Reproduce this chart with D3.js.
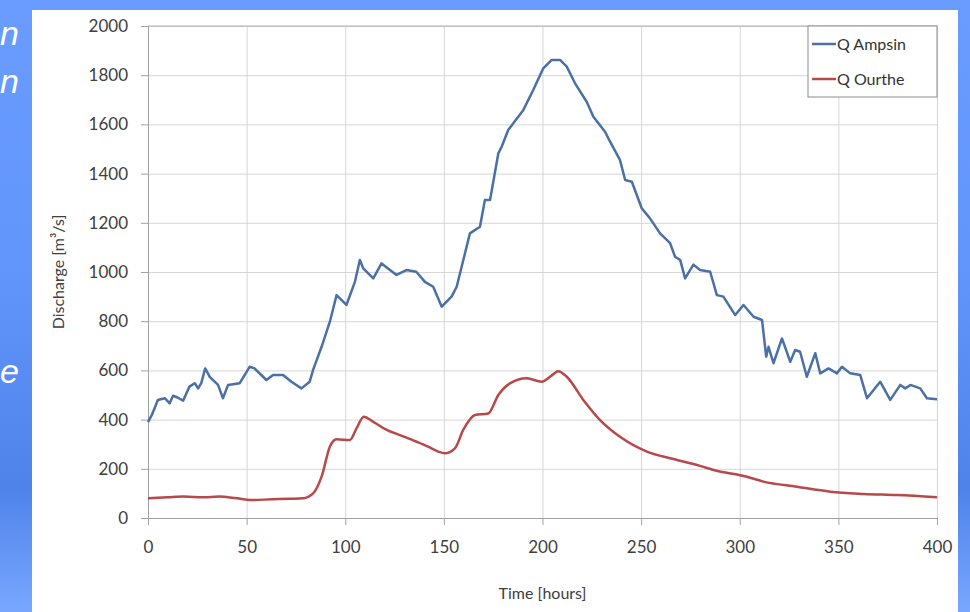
<!DOCTYPE html>
<html>
<head>
<meta charset="utf-8">
<script src="https://cdn.jsdelivr.net/npm/d3@7"></script>
<style>
  body { margin: 0; overflow: hidden; }
  svg { display: block; }
</style>
</head>
<body>
<div id="chart"></div>
<script>
// values (hours, m3/s)
const ampsinHours = [0, 2, 5, 8.5, 11, 12.7, 15, 17.8, 21, 23.7, 25.4, 27, 29, 31.3, 35.5, 38, 40.6, 46.5, 51.6, 54,
    60, 63.4, 68.5, 72.7, 77.8, 82, 83.7, 88, 92.2, 95.6, 100.6, 104.9, 107.4, 109.1, 114.2, 118.4, 126, 131, 136, 140.4,
    144.6, 148.9, 153.9, 156.5, 163.2, 168.3, 170.8, 173.4, 177.6, 179.3, 182.6, 190.3, 195.3, 200.4, 204.7, 208.9, 212.3, 216.5, 222.4, 225.8,
    231.7, 233.4, 239.3, 241.9, 245.3, 250.3, 254.5, 259.6, 264.7, 267.2, 269.8, 272.3, 276.5, 279.9, 285, 288.4, 291.7, 297.7, 301.9, 307,
    311.3, 313.4, 314.6, 317.1, 321.4, 325.6, 328.1, 330.6, 334, 338.3, 340.8, 345, 349.3, 351.8, 356, 361.1, 364.5, 371.2, 376.3, 381.4,
    383.9, 386.5, 391.5, 394.9, 400];
const ampsinQ = [390, 420, 480, 487, 466, 497, 490, 477, 534, 548, 527, 548, 608, 574, 541, 487, 541, 548, 615, 608,
    561, 581, 581, 554, 527, 554, 602, 696, 798, 906, 866, 960, 1049, 1015, 974, 1035, 988, 1008, 1001, 960,
    940, 859, 900, 940, 1157, 1184, 1293, 1293, 1482, 1509, 1577, 1659, 1740, 1828, 1862, 1862, 1835, 1767, 1692, 1631,
    1570, 1543, 1455, 1374, 1367, 1259, 1218, 1157, 1117, 1062, 1049, 974, 1030, 1008, 1001, 906, 900, 825, 866, 818,
    805, 656, 696, 629, 730, 635, 683, 676, 574, 670, 588, 608, 588, 615, 588, 581, 487, 554, 480, 541,
    527, 541, 527, 487, 483];

const ourtheHours = [0, 10, 18, 28, 36, 45, 52, 63, 72, 78.6, 83.7, 88, 92.2, 95.6, 102.3, 105.7, 109.4, 114.2, 121, 127.7,
    136.2, 142, 147.1, 150.5, 155.6, 159.8, 165.8, 172.5, 177.6, 183.5, 192, 199.6, 204, 208, 212.3, 220.7, 229.2, 239.3, 252.9, 266.4,
    279.9, 286.7, 303.6, 312, 329, 345.9, 362.8, 379.7, 400];
const ourtheQ = [80, 84, 87, 84, 87, 80, 73, 76, 78, 80, 100, 168, 290, 320, 317, 364, 412, 391, 358, 337,
    310, 290, 270, 263, 283, 358, 419, 425, 500, 547, 568, 554, 575, 597, 574, 480, 398, 330, 270, 240,
    212, 195, 168, 148, 127, 107, 98, 93, 84];

const xTicks = [0, 50, 100, 150, 200, 250, 300, 350, 400];
const yTicks = [0, 200, 400, 600, 800, 1000, 1200, 1400, 1600, 1800, 2000];
const seriesNames = ["Q Ampsin", "Q Ourthe"];
const seriesColors = ["#4a70a6", "#b8484a"];

const W = 970, H = 612;
const svg = d3.select("#chart").append("svg")
    .attr("width", W)
    .attr("height", H);

// slide background
const grad = svg.append("defs").append("linearGradient")
    .attr("id", "bg").attr("x1", 0).attr("y1", 0).attr("x2", 0).attr("y2", 1);
grad.append("stop").attr("offset", 0).attr("stop-color", "#6a9cff");
grad.append("stop").attr("offset", 0.45).attr("stop-color", "#6295fb");
grad.append("stop").attr("offset", 0.8).attr("stop-color", "#4f83ea");
grad.append("stop").attr("offset", 1).attr("stop-color", "#79a7ff");
svg.append("rect").attr("width", W).attr("height", H).attr("fill", "url(#bg)");

// slide text peeking out on the left
const side = [["n", 45], ["n", 93], ["e", 383]];
side.forEach(d => {
    svg.append("text")
        .attr("x", 0).attr("y", d[1])
        .attr("fill", "white")
        .style("font-family", "Liberation Sans, Arial, sans-serif")
        .style("font-style", "italic")
        .style("font-size", "34px")
        .text(d[0]);
});

// white chart panel
svg.append("rect")
    .attr("x", 32).attr("y", 10)
    .attr("width", 926).attr("height", H - 10)
    .attr("fill", "white");

const x = d3.scaleLinear().domain([0, 400]).range([148, 937]);
const y = d3.scaleLinear().domain([0, 2000]).range([518, 26]);

const font = "Lato, 'Open Sans', sans-serif";

// grid lines
svg.append("g")
    .attr("transform", `translate(0,${y(0)})`)
    .call(d3.axisBottom(x).tickValues(xTicks).tickSize(-(y(0) - y(2000))).tickFormat(""))
    .call(g => g.select(".domain").remove())
    .selectAll("line").attr("stroke", "#d6d6d6");
svg.append("g")
    .attr("transform", `translate(${x(0)},0)`)
    .call(d3.axisLeft(y).tickValues(yTicks).tickSize(-(x(400) - x(0))).tickFormat(""))
    .call(g => g.select(".domain").remove())
    .selectAll("line").attr("stroke", "#d6d6d6");

// axes
const yAxis = svg.append("g")
    .attr("transform", `translate(${x(0)},0)`)
    .call(d3.axisLeft(y).tickValues(yTicks).tickFormat(d3.format("d"))
        .tickSize(7).tickPadding(13).tickSizeOuter(0));
const xAxis = svg.append("g")
    .attr("transform", `translate(0,${y(0)})`)
    .call(d3.axisBottom(x).tickValues(xTicks).tickFormat(d3.format("d"))
        .tickSize(7).tickPadding(16).tickSizeOuter(0));
[xAxis, yAxis].forEach(a => {
    a.select(".domain").attr("stroke", "#a0a0a0");
    a.selectAll("line").attr("stroke", "#a0a0a0");
    a.selectAll("text")
        .attr("fill", "#404040")
        .style("font-family", font)
        .style("font-size", "17px");
});
// top border of plot
svg.append("line")
    .attr("x1", x(0)).attr("x2", x(400))
    .attr("y1", y(2000)).attr("y2", y(2000))
    .attr("stroke", "#b0b0b0");

// axis titles
svg.append("text")
    .attr("x", (x(0) + x(400)) / 2).attr("y", 599)
    .attr("text-anchor", "middle")
    .attr("fill", "#404040")
    .style("font-family", font).style("font-size", "16px")
    .text("Time [hours]");
svg.append("text")
    .attr("transform", `translate(64,${(y(0) + y(2000)) / 2}) rotate(-90)`)
    .attr("text-anchor", "middle")
    .attr("fill", "#404040")
    .style("font-family", font).style("font-size", "16px")
    .text("Discharge [m³/s]");

// lines
const ampsin = ampsinHours.map((h, i) => [h, ampsinQ[i]]);
const ourthe = ourtheHours.map((h, i) => [h, ourtheQ[i]]);

svg.append("path")
    .datum(ourthe)
    .attr("fill", "none")
    .attr("stroke", seriesColors[1])
    .attr("stroke-width", 2.5)
    .attr("d", d3.line().x(d => x(d[0])).y(d => y(d[1])).curve(d3.curveMonotoneX));
svg.append("path")
    .datum(ampsin)
    .attr("fill", "none")
    .attr("stroke", seriesColors[0])
    .attr("stroke-width", 2.5)
    .attr("stroke-linejoin", "round")
    .attr("d", d3.line().x(d => x(d[0])).y(d => y(d[1])));

// legend
const legend = svg.append("g").attr("transform", "translate(808,26)");
legend.append("rect")
    .attr("width", 129).attr("height", 71)
    .attr("fill", "white")
    .attr("stroke", "#8c8c8c");
seriesNames.forEach((name, i) => {
    const ly = 18 + i * 35;
    legend.append("line")
        .attr("x1", 4).attr("x2", 28)
        .attr("y1", ly).attr("y2", ly)
        .attr("stroke", seriesColors[i])
        .attr("stroke-width", 2.5);
    legend.append("text")
        .attr("x", 29).attr("y", ly + 6)
        .attr("fill", "#333")
        .style("font-family", font).style("font-size", "16px")
        .text(name);
});
</script>
</body>
</html>
